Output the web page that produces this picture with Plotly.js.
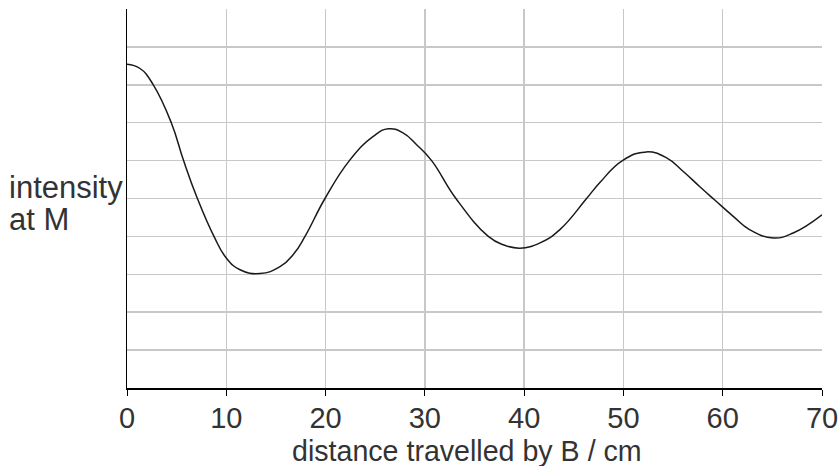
<!DOCTYPE html>
<html>
<head>
<meta charset="utf-8">
<script src="https://cdn.plot.ly/plotly-3.0.1.min.js"></script>
<style>html,body{margin:0;padding:0;background:#fff;}#chart{width:839px;height:466px;}</style>
</head>
<body>
<div id="chart"></div>
<script>
// distance travelled by B / cm
const distance = [0, 1.31, 2.65, 4.46, 5.7, 7.09, 8.76, 10.0, 11.38, 13.39, 15.41, 16.8, 17.93, 19.94, 22.4, 24.8, 26.32, 27.8, 29.17, 30.68, 33.13, 36.39, 37.9, 39.58, 41.6, 43.6, 46.29, 47.63, 49.9, 52.33, 54.35, 56.0, 57.7, 59.2, 61.06, 62.7, 65.09, 67.1, 70];
// intensity at M (arbitrary units, grid 0..10)
const intensity = [8.54, 8.43, 8.0, 7.0, 6.0, 5.0, 4.0, 3.43, 3.12, 3.02, 3.2, 3.54, 4.0, 5.0, 6.0, 6.64, 6.84, 6.73, 6.42, 6.0, 5.0, 4.0, 3.78, 3.69, 3.83, 4.18, 5.0, 5.42, 6.0, 6.23, 6.07, 5.72, 5.31, 4.96, 4.53, 4.18, 3.96, 4.09, 4.57];
const xTicks = [0, 10, 20, 30, 40, 50, 60, 70];
const xTickText = ['0', '10', '20', '30', '40', '50', '60', '70'];
const xTitle = 'distance travelled by B / cm';
const yLabelLines = ['intensity', 'at M'];

const font = 'Liberation Sans, Arial, sans-serif';
const textColor = '#333333';

const trace = {
  x: distance,
  y: intensity,
  type: 'scatter',
  mode: 'lines',
  line: {color: '#1a1a1a', width: 1.5, shape: 'spline', smoothing: 1.3, simplify: false},
  hoverinfo: 'skip'
};

const layout = {
  width: 839,
  height: 466,
  margin: {l: 127, r: 17, t: 9, b: 78},
  paper_bgcolor: '#ffffff',
  plot_bgcolor: '#ffffff',
  showlegend: false,
  font: {family: font, color: textColor, size: 28},
  xaxis: {
    range: [0, 70],
    tickvals: xTicks,
    ticktext: xTickText,
    ticks: 'outside',
    ticklen: 6,
    tickwidth: 1,
    tickcolor: '#000',
    ticklabelstandoff: -2,
    showline: true,
    linecolor: '#000',
    linewidth: 1.5,
    showgrid: true,
    gridcolor: '#c8c8c8',
    gridwidth: 1.5,
    zeroline: false,
    tickfont: {family: font, size: 29, color: textColor},
    fixedrange: true
  },
  yaxis: {
    range: [0, 10],
    dtick: 1,
    tick0: 0,
    showticklabels: false,
    ticks: '',
    showline: true,
    linecolor: '#000',
    linewidth: 1.5,
    showgrid: true,
    gridcolor: '#c8c8c8',
    gridwidth: 1.5,
    zeroline: false,
    fixedrange: true
  },
  annotations: [
    {
      text: xTitle,
      xref: 'paper', yref: 'paper',
      x: 0.489, y: -0.165,
      xanchor: 'center', yanchor: 'middle',
      showarrow: false,
      font: {family: font, size: 28.6, color: textColor}
    },
    {
      text: yLabelLines[0],
      xref: 'paper', yref: 'paper',
      x: -0.172, y: 0.528,
      xanchor: 'left', yanchor: 'middle',
      align: 'left', showarrow: false,
      font: {family: font, size: 31, color: textColor}
    },
    {
      text: yLabelLines[1],
      xref: 'paper', yref: 'paper',
      x: -0.172, y: 0.444,
      xanchor: 'left', yanchor: 'middle',
      align: 'left', showarrow: false,
      font: {family: font, size: 31, color: textColor}
    }
  ]
};

Plotly.newPlot('chart', [trace], layout, {displayModeBar: false, staticPlot: true});
</script>
</body>
</html>
